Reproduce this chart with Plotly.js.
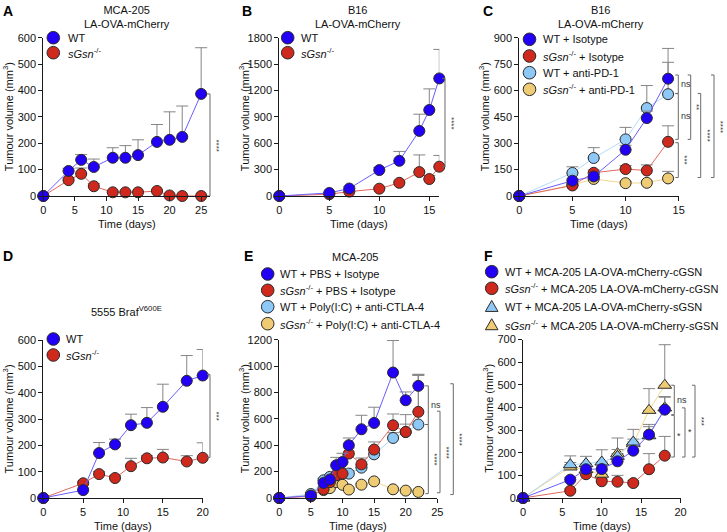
<!DOCTYPE html>
<html>
<head>
<meta charset="utf-8">
<script src="https://cdn.plot.ly/plotly-3.0.1.min.js"></script>
<style>
html, body { margin: 0; padding: 0; background: #fff; }
#chart { width: 727px; height: 532px; }
</style>
</head>
<body>
<div id="chart"></div>
<script>
// ---- data ----
// A: MCA-205 LA-OVA-mCherry
var aDays = [0, 4, 6, 8, 11, 13, 15, 18, 20, 22, 25];
var aWT = [0, 95, 137, 110, 145, 145, 155, 205, 213, 224, 387];
var aWTerr = [0, 10, 20, 30, 38, 46, 58, 66, 106, 117, 175];
var aKO = [0, 60, 84, 37, 14, 14, 14, 19, 2, 0, 0];
var aKOerr = [0, 8, 22, 10, 4, 4, 4, 5, 2, 2, 2];

// B: B16 LA-OVA-mCherry
var bDays = [0, 5, 7, 10, 12, 14, 15, 16];
var bWT = [0, 35, 85, 295, 400, 740, 978, 1337];
var bWTerr = [0, 10, 20, 30, 107, 190, 240, 330];
var bKO = [0, 20, 50, 83, 150, 272, 193, 333];
var bKOerr = [0, 5, 10, 15, 20, 195, 40, 128];

// C: B16 + anti-PD-1
var cDays = [0, 5, 7, 10, 12, 14];
var cWTiso = [0, 87, 111, 263, 443, 667];
var cWTisoErr = [0, 10, 15, 25, 40, 172];
var cKOiso = [0, 60, 132, 153, 145, 308];
var cKOisoErr = [0, 8, 15, 20, 32, 91];
var cWTpd1 = [0, 131, 216, 322, 500, 579];
var cWTpd1Err = [0, 35, 59, 68, 128, 181];
var cKOpd1 = [0, 62, 97, 73, 75, 100];
var cKOpd1Err = [0, 10, 10, 10, 10, 40];

// D: 5555 BrafV600E
var dDays = [0, 5, 7, 9, 11, 13, 15, 18, 20];
var dWT = [0, 30, 171, 204, 277, 286, 347, 446, 466];
var dWTerr = [0, 8, 40, 20, 42, 58, 86, 96, 99];
var dKO = [0, 56, 91, 76, 121, 151, 154, 139, 153];
var dKOerr = [0, 8, 10, 10, 30, 10, 31, 22, 57];

// E: MCA-205 + Poly(I:C) + anti-CTLA-4
var eDays = [0, 5, 7, 8, 9, 10, 11, 13, 15, 18, 20, 22];
var eWT = [0, 18, 114, 140, 248, 273, 400, 521, 569, 951, 741, 850];
var eWTerr = [0, 10, 20, 25, 60, 66, 55, 106, 119, 243, 63, 88];
var eKO = [0, 13, 66, 120, 172, 185, 337, 255, 367, 551, 501, 653];
var eKOerr = [0, 8, 15, 20, 30, 40, 43, 48, 58, 86, 131, 282];
var eWTpoly = [0, 30, 134, 160, 175, 190, 185, 230, 331, 455, 500, 557];
var eWTpolyErr = [0, 10, 15, 15, 20, 20, 20, 20, 30, 40, 60, 372];
var eKOpoly = [0, 20, 60, 75, 121, 100, 64, 101, 126, 66, 56, 46];
var eKOpolyErr = [0, 5, 10, 10, 10, 10, 10, 10, 15, 10, 10, 10];

// F: cGSN / sGSN re-expression
var fDays = [0, 6, 8, 10, 12, 14, 16, 18];
var fWTc = [0, 81, 127, 128, 162, 209, 280, 390];
var fWTcErr = [0, 10, 15, 15, 15, 20, 45, 55];
var fKOc = [0, 32, 105, 74, 72, 66, 127, 187];
var fKOcErr = [0, 8, 10, 10, 28, 10, 69, 85];
var fWTs = [0, 147, 152, 159, 184, 247, 275, 398];
var fWTsErr = [0, 39, 32, 54, 30, 56, 40, 50];
var fKOs = [0, 137, 125, 105, 196, 240, 387, 498];
var fKOsErr = [0, 20, 15, 15, 69, 20, 96, 179];

// ---- look ----
var FONT = 'Liberation Sans, Arial, sans-serif';
var BLUE = '#2200f5', BLUE_LINE = '#6a5eff';
var RED = '#cf281d', RED_LINE = '#e0685c';
var LBLUE = '#8ec8f6', LBLUE_LINE = '#b4dbf7';
var GOLD = '#efcb74', GOLD_LINE = '#f2d690';
var EDGE = '#2b2b2b';
var KO = '<i>sGsn</i><sup>-/-</sup>';

var W = 727, H = 532;
function P(px) { return px / W; }
function Q(py) { return 1 - py / H; }

// panel boxes in pixels
var geo = {
    A: { n: '',  l: 43.3,  r: 210,   t: 37.7,  b: 196, xr: [0, 26.4], yr: [0, 600],  ystep: 100, xmax: 25 },
    B: { n: '2', l: 279.3, r: 439.3, t: 37.7,  b: 196, xr: [0, 16],   yr: [0, 1800], ystep: 300, xmax: 15 },
    C: { n: '3', l: 519.3, r: 678.7, t: 37.7,  b: 196, xr: [0, 15],   yr: [0, 900],  ystep: 150, xmax: 15 },
    D: { n: '4', l: 43.3,  r: 202.7, t: 340.3, b: 498, xr: [0, 20],   yr: [0, 600],  ystep: 100, xmax: 20 },
    E: { n: '5', l: 279.3, r: 437.3, t: 339.7, b: 498, xr: [0, 25],   yr: [0, 1200], ystep: 200, xmax: 25 },
    F: { n: '6', l: 523,   r: 680.5, t: 339.5, b: 498, xr: [0, 20],   yr: [0, 700],  ystep: 100, xmax: 20 }
};

var traces = [], shapes = [], annotations = [];

function series(k, x, y, err, fill, line, sym) {
    var n = geo[k].n;
    traces.push({
        x: x, y: y, xaxis: 'x' + n, yaxis: 'y' + n,
        type: 'scatter', mode: 'lines+markers', cliponaxis: false,
        showlegend: false, hoverinfo: 'skip',
        line: { color: line, width: 1 },
        marker: { size: sym ? 12 : 11, color: fill, symbol: sym || 'circle', line: { color: EDGE, width: 1 } },
        error_y: {
            type: 'data', symmetric: false, array: err,
            arrayminus: err.map(function () { return 0; }),
            color: '#858585', thickness: 1, width: 6
        }
    });
}

function txt(px, py, text, opt) {
    var a = {
        xref: 'paper', yref: 'paper', x: P(px), y: Q(py), text: text, showarrow: false,
        xanchor: 'center', yanchor: 'middle',
        font: { family: FONT, size: 11, color: '#111' }
    };
    for (var key in opt) a[key] = opt[key];
    annotations.push(a);
}

function legendItem(cx, cy, fill, text, gap, tri) {
    var r = 6.3;
    if (tri) {
        shapes.push({
            type: 'path', xref: 'paper', yref: 'paper',
            path: 'M' + P(cx) + ',' + Q(cy - r) + 'L' + P(cx + r) + ',' + Q(cy + r * 0.75) +
                  'L' + P(cx - r) + ',' + Q(cy + r * 0.75) + 'Z',
            fillcolor: fill, line: { color: EDGE, width: 1 }
        });
    } else {
        shapes.push({
            type: 'circle', xref: 'paper', yref: 'paper',
            x0: P(cx - r), x1: P(cx + r), y0: Q(cy + r), y1: Q(cy - r),
            fillcolor: fill, line: { color: EDGE, width: 1 }
        });
    }
    txt(cx + (gap || 11), cy, text, { xanchor: 'left' });
}

// significance bracket: px = x position in pixels, y1/y2 in data units
function bracket(k, px, y1, y2, label, rotate) {
    var n = geo[k].n, t = 3;
    shapes.push({
        type: 'path', xref: 'paper', yref: 'y' + n,
        path: 'M' + P(px - t) + ',' + y1 + 'L' + P(px) + ',' + y1 + 'L' + P(px) + ',' + y2 + 'L' + P(px - t) + ',' + y2,
        line: { color: '#6a6a6a', width: 1 }
    });
    annotations.push({
        xref: 'paper', yref: 'y' + n, x: P(px), y: (y1 + y2) / 2, text: label,
        showarrow: false, xanchor: 'left', yanchor: 'middle',
        xshift: rotate ? 0 : 1, textangle: rotate ? 90 : 0,
        font: { family: FONT, size: rotate ? 8 : 9, color: '#333' }
    });
}

// ---- traces ----
series('A', aDays, aKO, aKOerr, RED, RED_LINE);
series('A', aDays, aWT, aWTerr, BLUE, BLUE_LINE);

series('B', bDays, bKO, bKOerr, RED, RED_LINE);
series('B', bDays, bWT, bWTerr, BLUE, BLUE_LINE);

series('C', cDays, cKOpd1, cKOpd1Err, GOLD, GOLD_LINE);
series('C', cDays, cWTpd1, cWTpd1Err, LBLUE, LBLUE_LINE);
series('C', cDays, cKOiso, cKOisoErr, RED, RED_LINE);
series('C', cDays, cWTiso, cWTisoErr, BLUE, BLUE_LINE);

series('D', dDays, dKO, dKOerr, RED, RED_LINE);
series('D', dDays, dWT, dWTerr, BLUE, BLUE_LINE);

series('E', eDays, eKOpoly, eKOpolyErr, GOLD, GOLD_LINE);
series('E', eDays, eWTpoly, eWTpolyErr, LBLUE, LBLUE_LINE);
series('E', eDays, eKO, eKOerr, RED, RED_LINE);
series('E', eDays, eWT, eWTerr, BLUE, BLUE_LINE);

series('F', fDays, fKOc, fKOcErr, RED, RED_LINE);
series('F', fDays, fKOs, fKOsErr, GOLD, GOLD_LINE, 'triangle-up');
series('F', fDays, fWTs, fWTsErr, LBLUE, LBLUE_LINE, 'triangle-up');
series('F', fDays, fWTc, fWTcErr, BLUE, BLUE_LINE);

// ---- axes ----
var layout = {
    width: W, height: H,
    margin: { l: 0, r: 0, t: 0, b: 0 },
    paper_bgcolor: '#fff', plot_bgcolor: 'rgba(0,0,0,0)',
    font: { family: FONT, size: 11, color: '#111' },
    showlegend: false
};

['A', 'B', 'C', 'D', 'E', 'F'].forEach(function (k) {
    var g = geo[k], xt = [], yt = [], v;
    for (v = 0; v <= g.xmax; v += 5) xt.push(v);
    for (v = 0; v <= g.yr[1]; v += g.ystep) yt.push(v);
    var common = {
        showline: true, linecolor: '#1a1a1a', linewidth: 1,
        ticks: 'outside', ticklen: 4, tickwidth: 1, tickcolor: '#1a1a1a',
        showgrid: false, zeroline: false, fixedrange: true,
        tickfont: { family: FONT, size: 11, color: '#111' }
    };
    layout['xaxis' + g.n] = Object.assign({
        domain: [P(g.l), P(g.r)], range: g.xr, anchor: 'y' + g.n, tickvals: xt
    }, common);
    layout['yaxis' + g.n] = Object.assign({
        domain: [Q(g.b), Q(g.t)], range: g.yr, anchor: 'x' + g.n, tickvals: yt
    }, common);

    txt((g.l + g.r) / 2, g.b + 28, 'Time (days)');
    txt(g.l - 35, (g.t + g.b) / 2, 'Tumour volume (mm<sup>3</sup>)', { textangle: -90 });
});

// ---- panel letters and titles ----
var bold = { font: { family: FONT, size: 14, color: '#000', weight: 'bold' } };
txt(8, 11, '<b>A</b>', bold);
txt(247, 11, '<b>B</b>', bold);
txt(488, 11, '<b>C</b>', bold);
txt(8, 256, '<b>D</b>', bold);
txt(248, 256, '<b>E</b>', bold);
txt(488, 256, '<b>F</b>', bold);

txt(127, 17, 'MCA-205<br>LA-OVA-mCherry');
txt(358, 17, 'B16<br>LA-OVA-mCherry');
txt(601, 17, 'B16<br>LA-OVA-mCherry');
txt(127, 311, '5555 Braf<sup>V600E</sup>');
txt(355, 257, 'MCA-205');

// ---- legends ----
legendItem(53.3, 37.7, BLUE, 'WT', 13);
legendItem(53.3, 52.7, RED, KO, 13);

legendItem(287.7, 37.7, BLUE, 'WT', 11);
legendItem(287.7, 52.7, RED, KO, 11);

legendItem(529.5, 39.3, BLUE, 'WT + Isotype', 11);
legendItem(529.5, 56, RED, KO + ' + Isotype', 11);
legendItem(529.5, 72.7, LBLUE, 'WT + anti-PD-1', 11);
legendItem(529.5, 89.3, GOLD, KO + ' + anti-PD-1', 11);

legendItem(53.3, 339, BLUE, 'WT', 11);
legendItem(53.3, 355, RED, KO, 11);

legendItem(267.7, 274, BLUE, 'WT + PBS + Isotype', 10);
legendItem(267.7, 290.3, RED, KO + ' + PBS + Isotype', 10);
legendItem(267.7, 306.7, LBLUE, 'WT + Poly(I:C) + anti-CTLA-4', 10);
legendItem(267.7, 323.7, GOLD, KO + ' + Poly(I:C) + anti-CTLA-4', 10);

legendItem(491.7, 271.7, BLUE, 'WT + MCA-205 LA-OVA-mCherry-cGSN', 11);
legendItem(491.7, 288.3, RED, KO + ' + MCA-205 LA-OVA-mCherry-cGSN', 11);
legendItem(491.7, 306.7, LBLUE, 'WT + MCA-205 LA-OVA-mCherry-sGSN', 11, true);
legendItem(491.7, 325, GOLD, KO + ' + MCA-205 LA-OVA-mCherry-sGSN', 11, true);

// ---- significance ----
bracket('A', 210, 387, 0, '****', true);
bracket('B', 445, 1337, 333, '****', true);

bracket('C', 678.3, 688, 583, 'ns');
bracket('C', 678.3, 582, 322, 'ns');
bracket('C', 678.3, 303, 105, '***', true);
bracket('C', 690.7, 688, 322, '**', true);
bracket('C', 700.7, 583, 105, '****', true);
bracket('C', 714, 688, 105, '****', true);

bracket('D', 210, 470, 154, '***', true);

bracket('E', 428.3, 850, 557, 'ns');
bracket('E', 428.3, 557, 33, '****', true);
bracket('E', 440, 658, 40, '****', true);
bracket('E', 453.3, 866, 26, '****', true);

bracket('F', 674.3, 498, 368, 'ns');
bracket('F', 674.3, 365, 181, '*');
bracket('F', 685, 398, 181, '*');
bracket('F', 695, 498, 181, '***', true);

layout.shapes = shapes;
layout.annotations = annotations;

Plotly.newPlot('chart', traces, layout, { staticPlot: true, displayModeBar: false });
</script>
</body>
</html>
